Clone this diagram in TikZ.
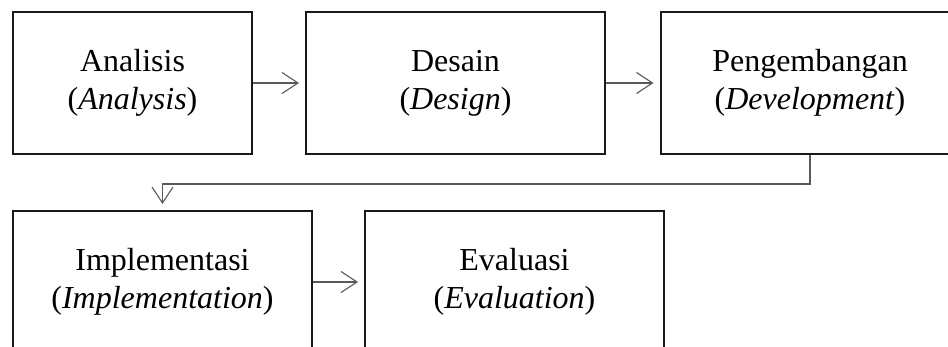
\documentclass[tikz,border=0pt]{standalone}
\usepackage{fontspec}
\setmainfont{Liberation Serif}
\usetikzlibrary{arrows.meta}
\begin{document}
\begin{tikzpicture}[x=1pt,y=-1pt,
  stage/.style={draw=black!90, line width=2pt, minimum width=299pt, minimum height=142pt,
    inner sep=0pt, align=center, font=\fontsize{32}{38}\selectfont},
  flow/.style={draw=black!65, line width=1.1pt, shorten >=6pt,
    -{Straight Barb[length=16pt,width=21pt,line width=1.1pt]}}]
\useasboundingbox (0,0) rectangle (948,346);
\clip (0,0) rectangle (948,346);
\fill[white] (0,0) rectangle (948,346);
\node[stage, minimum width=239pt] (b1) at (132.5,83) {Analisis\\(\textit{Analysis})};
\node[stage] (b2) at (455.5,83) {Desain\\(\textit{Design})};
\node[stage] (b3) at (810,83) {Pengembangan\\(\textit{Development})};
\node[stage] (b4) at (162.5,282) {Implementasi\\(\textit{Implementation})};
\node[stage] (b5) at (514.5,282) {Evaluasi\\(\textit{Evaluation})};
\draw[flow] (b1) -- (b2);
\draw[flow] (b2) -- (b3);
\draw[flow] (b3.south) -- ++(0,29) -| (b4.north);
\draw[flow] (b4) -- (b5);
\end{tikzpicture}
\end{document}
